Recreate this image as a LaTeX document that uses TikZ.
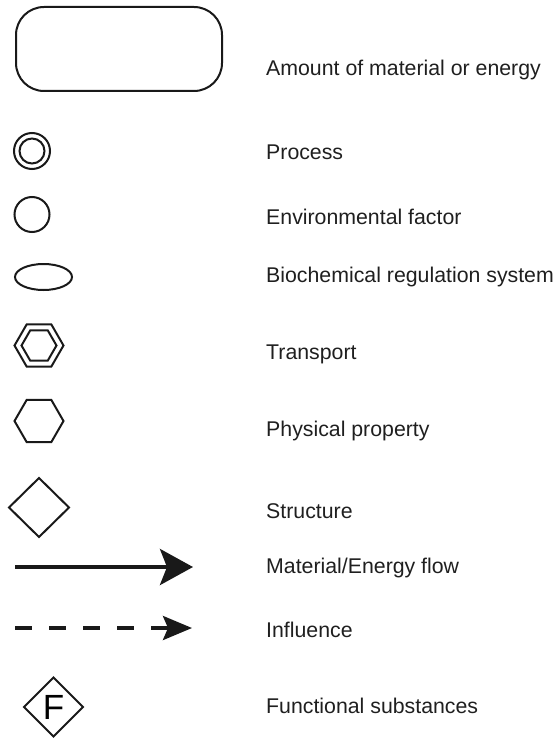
\documentclass[tikz,border=0pt]{standalone}
\usepackage{fontspec}
\setmainfont{Liberation Sans}
\usetikzlibrary{shapes.geometric,arrows.meta}
\tikzset{
  shp/.style={draw=black!90, line width=2pt, inner sep=0pt, outer sep=0pt, fill=none},
  hexl/.style={draw=black!90, line width=2pt, line join=miter},
  lbl/.style={anchor=base west, inner sep=0pt, font=\fontsize{21.3}{25}\selectfont, text=black!88},
}
\begin{document}
\begin{tikzpicture}[x=1pt,y=-1pt]
\useasboundingbox (0,0) rectangle (559,738);
% shapes
\node[shp, rectangle, rounded corners=28pt, minimum width=206pt, minimum height=84pt] (amount) at (119,49) {};
\node[shp, circle, minimum size=36pt] (proc) at (32,151) {};
\node[shp, circle, minimum size=25pt] (procin) at (32,151) {};
\node[shp, circle, minimum size=35pt] (env) at (32,214.5) {};
\node[shp, ellipse, minimum width=57pt, minimum height=26pt] (bio) at (43.5,277) {};
\coordinate (trans) at (39,345.5);
\draw[hexl] ([shift={(0:24.5pt)}]trans) -- ([shift={(60:24.5pt)}]trans) -- ([shift={(120:24.5pt)}]trans) -- ([shift={(180:24.5pt)}]trans) -- ([shift={(240:24.5pt)}]trans) -- ([shift={(300:24.5pt)}]trans) -- cycle;
\draw[hexl] ([shift={(0:17.5pt)}]trans) -- ([shift={(60:17.5pt)}]trans) -- ([shift={(120:17.5pt)}]trans) -- ([shift={(180:17.5pt)}]trans) -- ([shift={(240:17.5pt)}]trans) -- ([shift={(300:17.5pt)}]trans) -- cycle;
\coordinate (phys) at (39,421);
\draw[hexl] ([shift={(0:24.5pt)}]phys) -- ([shift={(60:24.5pt)}]phys) -- ([shift={(120:24.5pt)}]phys) -- ([shift={(180:24.5pt)}]phys) -- ([shift={(240:24.5pt)}]phys) -- ([shift={(300:24.5pt)}]phys) -- cycle;
\node[shp, diamond, minimum width=60pt, minimum height=59pt] (struct) at (39,507.5) {};
\node[shp, diamond, minimum width=59pt, minimum height=59pt, font=\fontsize{35}{35}\selectfont] (func) at (53.5,707) {F};
% arrows
\coordinate (s1) at (15,567);
\coordinate (e1) at (193,567);
\draw[line width=4pt, draw=black!90, -{Stealth[length=33pt,width=36pt,inset=7pt]}] (s1) -- (e1);
\coordinate (s2) at (15,628);
\coordinate (e2) at (192,628);
\draw[line width=3.5pt, draw=black!90, dash pattern=on 17pt off 17pt, -{Stealth[length=29pt,width=24pt,inset=5pt]}] (s2) -- (e2);
% labels
\node[lbl] (t1) at (266,76) {Amount of material or energy};
\node[lbl] (t2) at (266,160) {Process};
\node[lbl] (t3) at (266,224) {Environmental factor};
\node[lbl] (t4) at (266,282) {Biochemical regulation system};
\node[lbl] (t5) at (266,359) {Transport};
\node[lbl] (t6) at (266,436) {Physical property};
\node[lbl] (t7) at (266,518) {Structure};
\node[lbl] (t8) at (266,573) {Material/Energy flow};
\node[lbl] (t9) at (266,637) {Influence};
\node[lbl] (t10) at (266,713) {Functional substances};
\end{tikzpicture}
\end{document}
